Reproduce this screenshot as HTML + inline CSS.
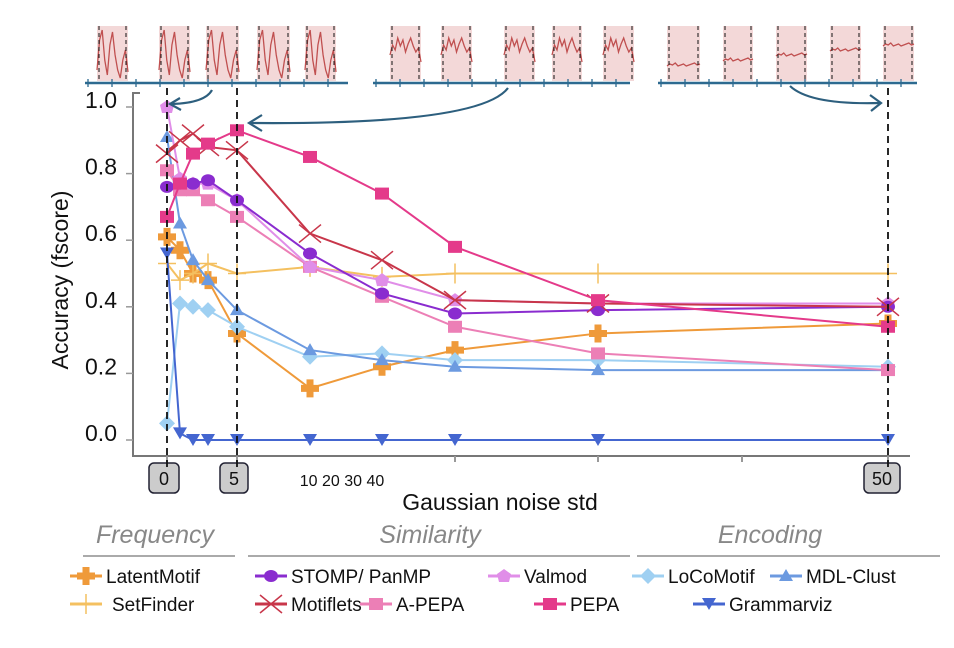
<!DOCTYPE html>
<html><head><meta charset="utf-8"><style>
body{margin:0;background:#fff;width:954px;height:648px;overflow:hidden;font-family:"Liberation Sans",sans-serif}
svg{display:block}
</style></head><body>
<svg id="chart" width="954" height="648" viewBox="0 0 954 648" xmlns="http://www.w3.org/2000/svg">
<g id="thumbs"></g>
<g id="axes"></g>
<g id="series"></g>
<g id="overlay"></g>
<g id="legend"></g>
</svg>
<script>
const categories = [0, 0.5, 1, 2, 5, 10, 20, 30, 40, 50];
const yTicks = [0, 0.2, 0.4, 0.6, 0.8, 1.0];
const yTickLabels = ["0.0","0.2","0.4","0.6","0.8","1.0"];
const latentMotif = [0.61,0.57,0.50,0.48,0.32,0.155,0.22,0.27,0.32,0.35];
const setFinder = [0.53,0.48,0.50,0.53,0.50,0.52,0.49,0.50,0.50,0.50];
const stomp = [0.76,0.77,0.77,0.78,0.72,0.56,0.44,0.38,0.39,0.40];
const valmod = [1.0,0.785,0.77,0.77,0.72,0.52,0.48,0.42,0.41,0.41];
const motiflets = [0.86,0.90,0.92,0.88,0.87,0.62,0.54,0.42,0.41,0.40];
const aPepa = [0.81,0.75,0.75,0.72,0.67,0.52,0.43,0.34,0.26,0.21];
const pepa = [0.67,0.77,0.86,0.89,0.93,0.85,0.74,0.58,0.42,0.34];
const locoMotif = [0.05,0.41,0.40,0.39,0.34,0.25,0.26,0.24,0.24,0.22];
const mdlClust = [0.91,0.65,0.54,0.48,0.39,0.27,0.24,0.22,0.21,0.21];
const grammarviz = [0.56,0.02,0,0,0,0,0,0,0,0];

const NS="http://www.w3.org/2000/svg";
function mk(tag,attrs,parent){const e=document.createElementNS(NS,tag);for(const k in attrs)e.setAttribute(k,attrs[k]);if(parent)parent.appendChild(e);return e;}
const xDom=[0,0.5,1,2,5,10,20,30,40,50];
const xRng=[167,180,193,208,237,310,382,455,598,888];
function xScale(v){for(let i=0;i<xDom.length-1;i++){if(v<=xDom[i+1]){const t=(v-xDom[i])/(xDom[i+1]-xDom[i]);return xRng[i]+t*(xRng[i+1]-xRng[i]);}}return xRng[xRng.length-1];}
function yScale(v){return 440-v*333;}

const axes=document.getElementById('axes');
let l=mk('path',{d:'M140 93 H133 V456 H910',fill:'none',stroke:'#777','stroke-width':2},axes);


yTicks.forEach((v,i)=>{
  const y=yScale(v);
  const t=mk('line',{x1:126,x2:133,y1:y,y2:y,stroke:'#999','stroke-width':1.5},axes);
  
  
  const tx=mk('text',{x:117,y:y+1,'text-anchor':'end','font-size':23,fill:'#111'},axes);
  tx.textContent=yTickLabels[i];
  
  
});
[0,5,30,40,50].forEach(v=>{const x=xScale(v);const t=mk('line',{x1:x,x2:x,y1:456,y2:462,stroke:'#999','stroke-width':2},axes);
  
  });
[742].forEach(x=>{const t=mk('line',{x1:x,x2:x,y1:456,y2:462,stroke:'#999','stroke-width':2},axes);
  
  });
let yt=mk('text',{x:0,y:0,transform:'translate(68 280) rotate(-90)','text-anchor':'middle','font-size':23,fill:'#111'},axes);
yt.textContent='Accuracy (fscore)';


let xt=mk('text',{x:500,y:510,'text-anchor':'middle','font-size':23,fill:'#111'},axes);
xt.textContent='Gaussian noise std';


let xm=mk('text',{x:342,y:486,'text-anchor':'middle','font-size':16,fill:'#111'},axes);
xm.textContent='10 20 30 40';


[[0,'0',30],[5,'5',28],[50,'50',36]].forEach(([v,s,w])=>{
  const x=xScale(v)-(v==50?6:3);
  const g=mk('g',{},axes);
  
  
  mk('rect',{x:x-w/2,y:463,width:w,height:30,rx:5,fill:'#ccc',stroke:'#223','stroke-width':1.5},g);
  const t=mk('text',{x:x,y:485,'text-anchor':'middle','font-size':18,fill:'#111'},g);t.textContent=s;
});

function marker(g,shape,x,y,c){
  if(shape==='plus') mk('path',{d:`M${x-9} ${y-3.5}h5.5v-5.5h7v5.5h5.5v7h-5.5v5.5h-7v-5.5h-5.5z`,fill:c},g);
  else if(shape==='thinplus') mk('path',{d:`M${x-9} ${y}H${x+9}M${x} ${y-10}V${y+10}`,stroke:c,'stroke-width':1.5},g);
  else if(shape==='hex') mk('ellipse',{cx:x,cy:y,rx:7,ry:6,fill:c},g);
  else if(shape==='pent') mk('path',{d:`M${x} ${y-7}L${x+7} ${y-2}L${x+5} ${y+6}L${x-5} ${y+6}L${x-7} ${y-2}z`,fill:c},g);
  else if(shape==='x') mk('path',{d:`M${x-11} ${y-9}L${x+11} ${y+9}M${x-11} ${y+9}L${x+11} ${y-9}`,stroke:c,'stroke-width':1.5},g);
  else if(shape==='sq') mk('rect',{x:x-7,y:y-6,width:14,height:12,fill:c},g);
  else if(shape==='dia') mk('path',{d:`M${x} ${y-8}L${x+8} ${y}L${x} ${y+8}L${x-8} ${y}z`,fill:c},g);
  else if(shape==='tri') mk('path',{d:`M${x} ${y-7}L${x+7} ${y+5}L${x-7} ${y+5}z`,fill:c},g);
  else if(shape==='vtri') mk('path',{d:`M${x} ${y+6}L${x+7} ${y-6}L${x-7} ${y-6}z`,fill:c},g);
}
const seriesDefs=[
 ['latentmotif',latentMotif,'#ef9a3a','plus'],
 ['setfinder',setFinder,'#f4c060','thinplus'],
 ['locomotif',locoMotif,'#9fd0f2','dia'],
 ['mdl-clust',mdlClust,'#6c9ae0','tri'],
 ['grammarviz',grammarviz,'#4466d0','vtri'],
 ['a-pepa',aPepa,'#ec7fb6','sq'],
 ['valmod',valmod,'#e08ee8','pent'],
 ['stomp-panmp',stomp,'#8a2ccf','hex'],
 ['motiflets',motiflets,'#c8364a','x'],
 ['pepa',pepa,'#e43a8a','sq'],
];
const sg=document.getElementById('series');
seriesDefs.forEach(([name,vals,c,shape])=>{
  const g=mk('g',{},sg);
  
  
  const pts=vals.map((v,i)=>xScale(categories[i])+','+yScale(v)).join(' ');
  mk('polyline',{points:pts,fill:'none',stroke:c,'stroke-width':2},g);
  vals.forEach((v,i)=>marker(g,shape,xScale(categories[i]),yScale(v),c));
});

const ov=document.getElementById('overlay');
[167,237,888].forEach(x=>{const d=mk('line',{x1:x,x2:x,y1:88,y2:470,stroke:'#111','stroke-width':1.8,'stroke-dasharray':'7 5'},ov);
  
  });
const ac='#2d5f7e';
[['M212 90 Q205 103 172 104','M180 98 L170 104 L181 110'],
 ['M508 88 Q480 125 250 123','M262 115 L249 123 L262 131'],
 ['M790 86 Q810 105 880 103','M870 95 L881 103 L871 111']].forEach(([p,h])=>{
  const g=mk('g',{},ov);
  
  
  mk('path',{d:p,fill:'none',stroke:ac,'stroke-width':2.2},g);
  mk('path',{d:h,fill:'none',stroke:ac,'stroke-width':2.2},g);
});

const th=document.getElementById('thumbs');
function thumbGroup(x0,x1,wins,kind,name){
  const g=mk('g',{},th);
  
  
  wins.forEach(([a,b],k)=>{
    mk('rect',{x:a,y:26,width:b-a,height:55,fill:'#f3d8d8'},g);
    let d='';
    for(let i=0;i<=12;i++){const x=a+(b-a)*i/12;let y;
      if(kind==='big') y=[70,40,30,60,75,45,32,55,70,78,60,50,72][i];
      else if(kind==='mid') y=[55,45,50,38,46,40,52,44,38,46,52,48,62][i];
      else y=[66,64,65,63,66,65,64,66,65,64,63,65,64][i]-(k*5);
      d+=(i?'L':'M')+x+' '+y;}
    mk('path',{d:d,fill:'none',stroke:'#c05050','stroke-width':1.3},g);
    [a+2,b-2].forEach(x=>mk('line',{x1:x,x2:x,y1:26,y2:82,stroke:'#111','stroke-width':1,'stroke-dasharray':'4 3'},g));
  });
  mk('line',{x1:x0,x2:x1,y1:83,y2:83,stroke:'#2d6a90','stroke-width':2.5},g);
  for(let x=x0+3;x<x1;x+=24) mk('line',{x1:x,x2:x,y1:79,y2:87,stroke:'#2d6a90','stroke-width':1.3},g);
}
thumbGroup(85,348,[[97,128],[159,190],[206,239],[257,290],[305,336]],'big','thumbnail-noise-0');
thumbGroup(373,630,[[390,421],[441,472],[504,535],[552,582],[603,634]],'mid','thumbnail-noise-5');
thumbGroup(658,917,[[667,700],[723,753],[776,807],[830,861],[883,914]],'flat','thumbnail-noise-50');

const lg=document.getElementById('legend');
[['Frequency',155,83,235],['Similarity',430,248,630],['Encoding',770,637,940]].forEach(([t,cx,a,b])=>{
  const g=mk('g',{},lg);
  
  
  const tx=mk('text',{x:cx,y:543,'text-anchor':'middle','font-size':25,'font-style':'italic',fill:'#888'},g);tx.textContent=t;
  mk('line',{x1:a,x2:b,y1:556,y2:556,stroke:'#aaa','stroke-width':2},g);
});
const legendEntries=[
 ['LatentMotif','#ef9a3a','plus',70,576],['SetFinder','#f4c060','thinplus',70,604],
 ['STOMP/ PanMP','#8a2ccf','hex',255,576],['Valmod','#e08ee8','pent',488,576],
 ['Motiflets','#c8364a','x',255,604],['A-PEPA','#ec7fb6','sq',360,604],['PEPA','#e43a8a','sq',534,604],
 ['LoCoMotif','#9fd0f2','dia',632,576],['MDL-Clust','#6c9ae0','tri',770,576],['Grammarviz','#4466d0','vtri',693,604]];
legendEntries.forEach(([n,c,s,x,y])=>{
  const g=mk('g',{},lg);
  
  
  mk('line',{x1:x,x2:x+32,y1:y,y2:y,stroke:c,'stroke-width':3},g);
  marker(g,s,x+16,y,c);
  const t=mk('text',{x:x+(n==='SetFinder'?42:36),y:y+7,'font-size':19,fill:'#111'},g);t.textContent=n;
});
</script>
</body></html>
